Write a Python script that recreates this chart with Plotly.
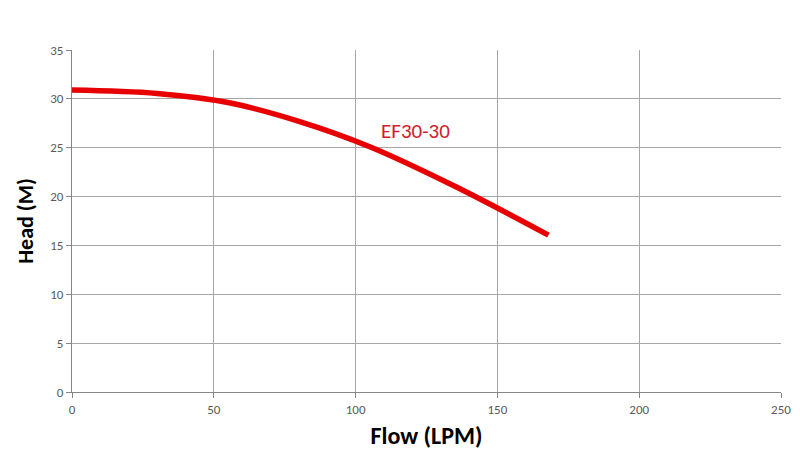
import plotly.graph_objects as go

flow = [0, 30, 55, 80, 105, 135, 168]
head = [30.9, 30.55, 29.62, 27.7, 25.1, 21.05, 16.05]
series_name = "EF30-30"
x_ticks = [0, 50, 100, 150, 200, 250]
y_ticks = [0, 5, 10, 15, 20, 25, 30, 35]

FONT = "Carlito, Lato, Liberation Sans, sans-serif"

fig = go.Figure()
fig.add_trace(go.Scatter(
    x=flow, y=head, mode="lines", name=series_name,
    line=dict(color="#e80000", width=5.5, shape="spline", smoothing=1.0),
    showlegend=False, hoverinfo="skip",
))
fig.add_annotation(
    x=121, y=26.75, text=series_name, showarrow=False,
    font=dict(family=FONT, size=21, color="#d0202a"),
)
fig.update_layout(
    width=784, height=442,
    margin=dict(l=64, r=11, t=42, b=58),
    paper_bgcolor="white", plot_bgcolor="white",
    font=dict(family=FONT, color="#595959"),
)
fig.update_xaxes(
    range=[0, 250], tickvals=x_ticks, ticktext=[str(v) for v in x_ticks],
    showgrid=True, gridcolor="#a6a6a6", gridwidth=1,
    showline=True, linecolor="#868686", linewidth=1,
    ticks="outside", ticklen=5, tickcolor="#868686",
    tickfont=dict(size=13, color="#595959"),
    zeroline=False, mirror=False, automargin=False,
    title=dict(text="<b>Flow (LPM)</b>", font=dict(family=FONT, size=24, color="black"), standoff=12),
)
fig.update_yaxes(
    range=[0, 35], tickvals=y_ticks, ticktext=[str(v) for v in y_ticks],
    showgrid=True, gridcolor="#a6a6a6", gridwidth=1,
    showline=True, linecolor="#868686", linewidth=1,
    ticks="outside", ticklen=5, tickcolor="#868686",
    tickfont=dict(size=13, color="#595959"),
    zeroline=False, automargin=False,
    title=dict(text="<b>Head (M)</b>", font=dict(family=FONT, size=22, color="black"), standoff=10),
)
fig.write_html("out.html")
